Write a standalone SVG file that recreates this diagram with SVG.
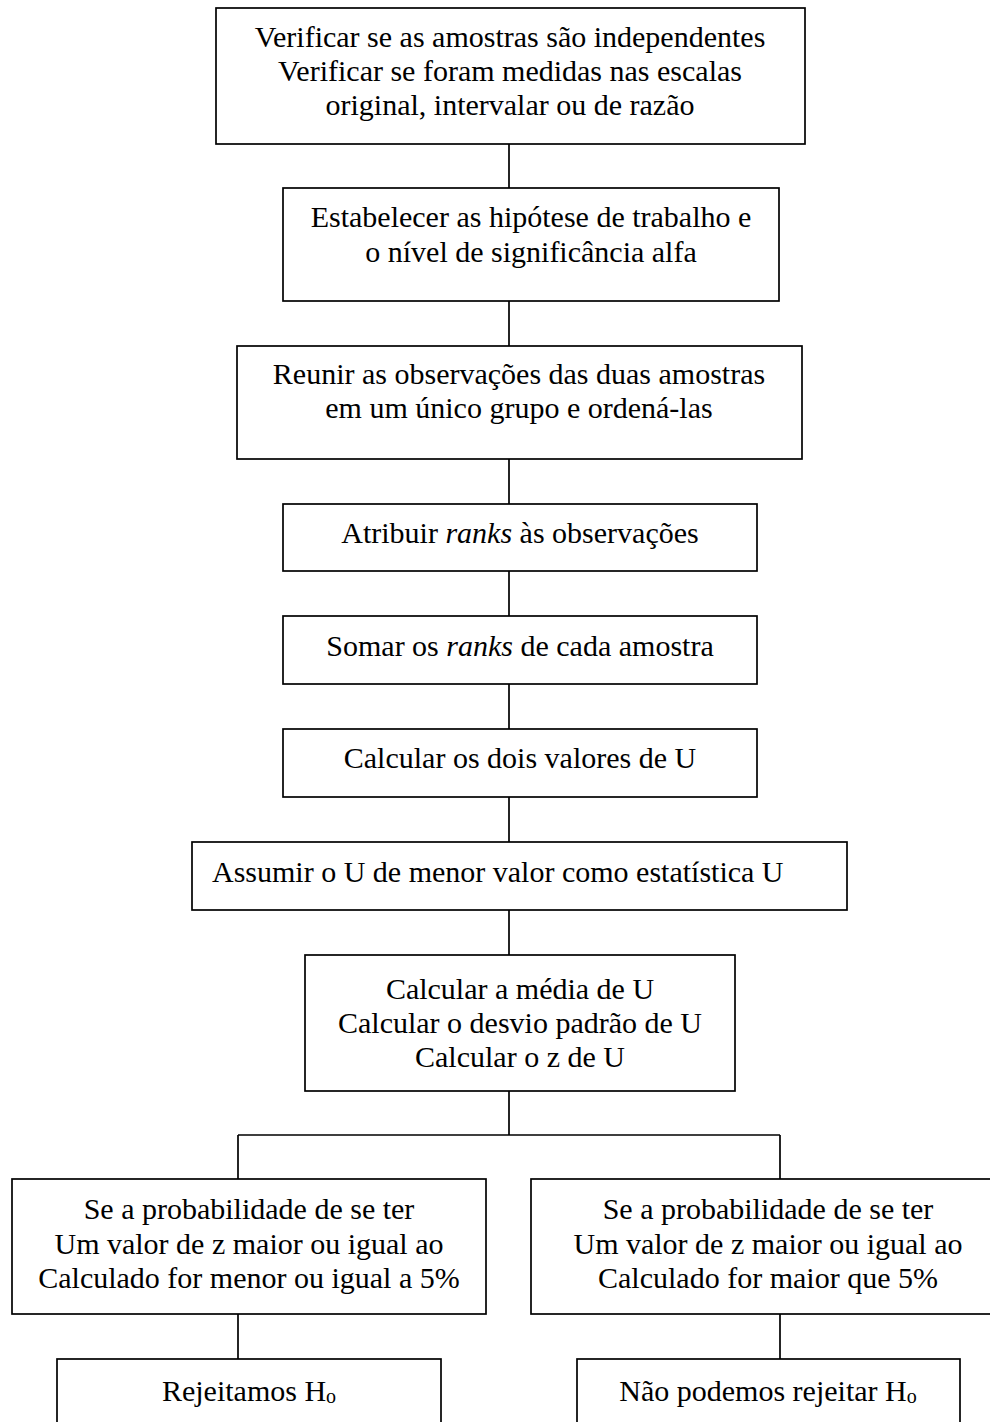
<svg xmlns="http://www.w3.org/2000/svg" width="990" height="1422" viewBox="0 0 990 1422">
<style>
.b{fill:#fff;stroke:#000;stroke-width:1.7}
.c{fill:none;stroke:#000;stroke-width:1.7}
text{font-family:"Liberation Serif","Times New Roman",serif;font-size:30px;fill:#000;text-anchor:middle}
.i{font-style:italic}
.s{font-size:20px}
</style>
<rect width="990" height="1422" fill="#fff"/>
<g id="connectors">
<path class="c" d="M509 144V188M509 301V346M509 459V504M509 571V616M509 684V729M509 797V842M509 910V955M509 1091V1135M238 1135H780M238 1135V1179M780 1135V1179M238 1314V1359M780 1314V1359"/>
</g>
<g id="n1">
<rect class="b" x="216" y="8" width="589" height="136"/>
<text x="510" y="47">Verificar se as amostras são independentes</text>
<text x="510" y="81">Verificar se foram medidas nas escalas</text>
<text x="510" y="115">original, intervalar ou de razão</text>
</g>
<g id="n2">
<rect class="b" x="283" y="188" width="496" height="113"/>
<text x="531" y="227">Estabelecer as hipótese de trabalho e</text>
<text x="531" y="262">o nível de significância alfa</text>
</g>
<g id="n3">
<rect class="b" x="237" y="346" width="565" height="113"/>
<text x="519" y="384">Reunir as observações das duas amostras</text>
<text x="519" y="418">em um único grupo e ordená-las</text>
</g>
<g id="n4">
<rect class="b" x="283" y="504" width="474" height="67"/>
<text x="520" y="543">Atribuir <tspan class="i">ranks</tspan> às observações</text>
</g>
<g id="n5">
<rect class="b" x="283" y="616" width="474" height="68"/>
<text x="520" y="656">Somar os <tspan class="i">ranks</tspan> de cada amostra</text>
</g>
<g id="n6">
<rect class="b" x="283" y="729" width="474" height="68"/>
<text x="520" y="768">Calcular os dois valores de U</text>
</g>
<g id="n7">
<rect class="b" x="192" y="842" width="655" height="68"/>
<text x="212" y="882" style="text-anchor:start">Assumir o U de menor valor como estatística U</text>
</g>
<g id="n8">
<rect class="b" x="305" y="955" width="430" height="136"/>
<text x="520" y="999">Calcular a média de U</text>
<text x="520" y="1033">Calcular o desvio padrão de U</text>
<text x="520" y="1067">Calcular o z de U</text>
</g>
<g id="n9">
<rect class="b" x="12" y="1179" width="474" height="135"/>
<text x="249" y="1219">Se a probabilidade de se ter</text>
<text x="249" y="1254">Um valor de z maior ou igual ao</text>
<text x="249" y="1288">Calculado for menor ou igual a 5%</text>
</g>
<g id="n10">
<rect class="b" x="531" y="1179" width="477" height="135"/>
<text x="768" y="1219">Se a probabilidade de se ter</text>
<text x="768" y="1254">Um valor de z maior ou igual ao</text>
<text x="768" y="1288">Calculado for maior que 5%</text>
</g>
<g id="n11">
<rect class="b" x="57" y="1359" width="384" height="80"/>
<text x="249" y="1401">Rejeitamos H<tspan class="s" dy="2">o</tspan></text>
</g>
<g id="n12">
<rect class="b" x="577" y="1359" width="383" height="80"/>
<text x="768" y="1401">Não podemos rejeitar H<tspan class="s" dy="2">o</tspan></text>
</g>
</svg>
